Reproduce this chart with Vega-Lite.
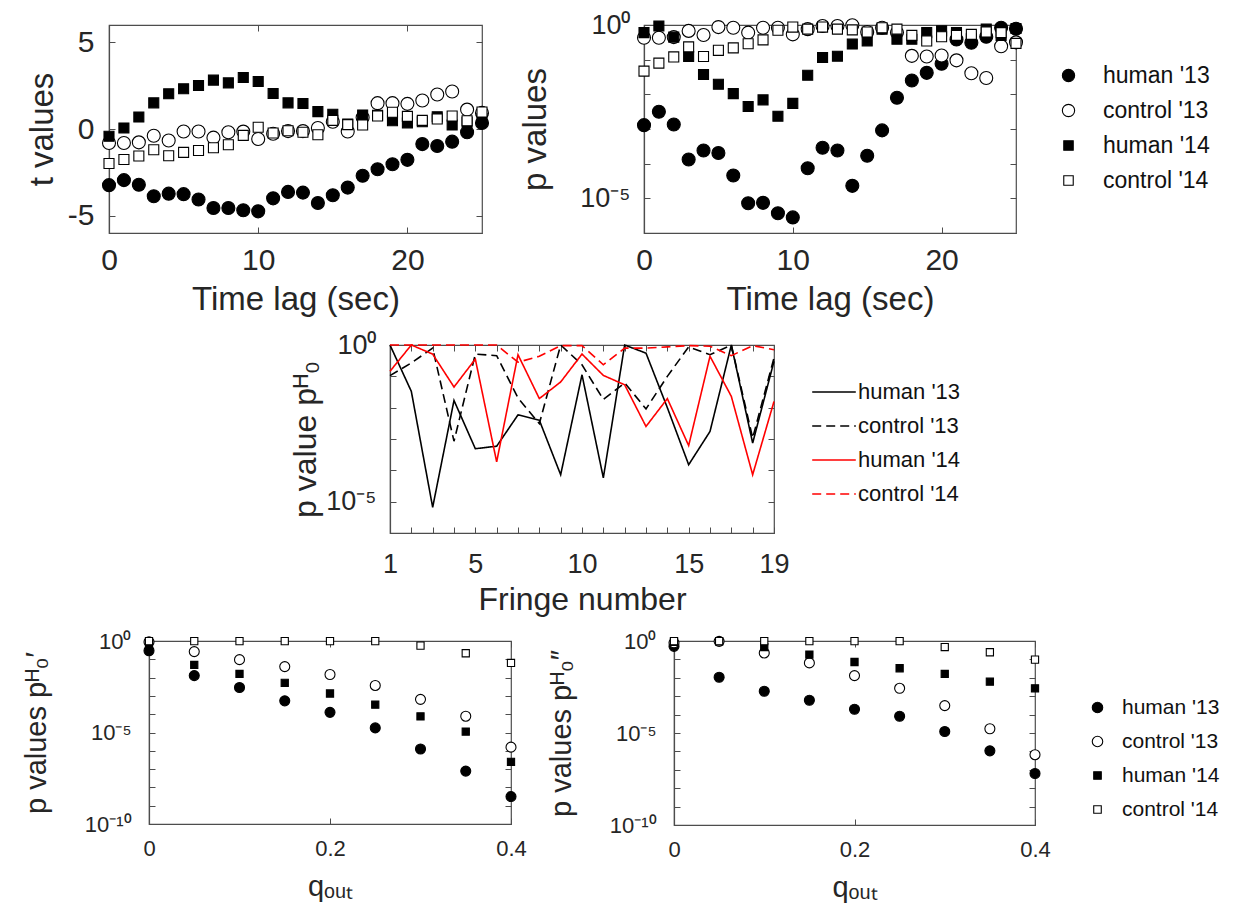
{
"$schema": "https://vega.github.io/schema/vega-lite/v6.json",
"background": "white",
"padding": {"left": 0, "top": 10, "right": 5, "bottom": 5},
"config": {
  "font": "Liberation Sans",
  "view": {"stroke": "#4d4d4d", "strokeWidth": 1.2},
  "axis": {"domainColor": "#4d4d4d", "domainWidth": 1.2, "tickColor": "#4d4d4d", "tickSize": -6, "tickWidth": 1, "labelColor": "#262626", "titleColor": "#262626", "grid": false, "labelFlush": false, "labelOverlap": false, "titleFontWeight": "normal", "labelFont": "Liberation Sans", "titleFont": "Liberation Sans"},
  "legend": {"labelColor": "#111111", "labelFont": "Liberation Sans"}
},
"datasets": {
  "tvals": [
    {"lag":0,"series":"human '13","t":-3.24},{"lag":1,"series":"human '13","t":-2.95},{"lag":2,"series":"human '13","t":-3.22},{"lag":3,"series":"human '13","t":-3.88},{"lag":4,"series":"human '13","t":-3.73},{"lag":5,"series":"human '13","t":-3.76},{"lag":6,"series":"human '13","t":-4.07},{"lag":7,"series":"human '13","t":-4.56},{"lag":8,"series":"human '13","t":-4.56},{"lag":9,"series":"human '13","t":-4.69},{"lag":10,"series":"human '13","t":-4.75},{"lag":11,"series":"human '13","t":-4.0},{"lag":12,"series":"human '13","t":-3.63},{"lag":13,"series":"human '13","t":-3.67},{"lag":14,"series":"human '13","t":-4.27},{"lag":15,"series":"human '13","t":-3.82},{"lag":16,"series":"human '13","t":-3.38},{"lag":17,"series":"human '13","t":-2.70},{"lag":18,"series":"human '13","t":-2.32},{"lag":19,"series":"human '13","t":-2.03},{"lag":20,"series":"human '13","t":-1.78},{"lag":21,"series":"human '13","t":-0.87},{"lag":22,"series":"human '13","t":-0.98},{"lag":23,"series":"human '13","t":-0.73},{"lag":24,"series":"human '13","t":-0.19},{"lag":25,"series":"human '13","t":0.35},
    {"lag":0,"series":"control '13","t":-0.81},{"lag":1,"series":"control '13","t":-0.81},{"lag":2,"series":"control '13","t":-0.77},{"lag":3,"series":"control '13","t":-0.39},{"lag":4,"series":"control '13","t":-0.66},{"lag":5,"series":"control '13","t":-0.14},{"lag":6,"series":"control '13","t":-0.14},{"lag":7,"series":"control '13","t":-0.50},{"lag":8,"series":"control '13","t":-0.19},{"lag":9,"series":"control '13","t":-0.15},{"lag":10,"series":"control '13","t":-0.58},{"lag":11,"series":"control '13","t":-0.27},{"lag":12,"series":"control '13","t":-0.12},{"lag":13,"series":"control '13","t":-0.12},{"lag":14,"series":"control '13","t":0.06},{"lag":15,"series":"control '13","t":0.42},{"lag":16,"series":"control '13","t":-0.14},{"lag":17,"series":"control '13","t":0.66},{"lag":18,"series":"control '13","t":1.49},{"lag":19,"series":"control '13","t":1.49},{"lag":20,"series":"control '13","t":1.45},{"lag":21,"series":"control '13","t":1.64},{"lag":22,"series":"control '13","t":1.99},{"lag":23,"series":"control '13","t":2.16},{"lag":24,"series":"control '13","t":1.12},{"lag":25,"series":"control '13","t":0.93},
    {"lag":0,"series":"human '14","t":-0.42},{"lag":1,"series":"human '14","t":0.06},{"lag":2,"series":"human '14","t":0.69},{"lag":3,"series":"human '14","t":1.51},{"lag":4,"series":"human '14","t":2.03},{"lag":5,"series":"human '14","t":2.32},{"lag":6,"series":"human '14","t":2.51},{"lag":7,"series":"human '14","t":2.82},{"lag":8,"series":"human '14","t":2.66},{"lag":9,"series":"human '14","t":2.97},{"lag":10,"series":"human '14","t":2.74},{"lag":11,"series":"human '14","t":2.05},{"lag":12,"series":"human '14","t":1.51},{"lag":13,"series":"human '14","t":1.47},{"lag":14,"series":"human '14","t":1.0},{"lag":15,"series":"human '14","t":0.85},{"lag":16,"series":"human '14","t":0.29},{"lag":17,"series":"human '14","t":0.81},{"lag":18,"series":"human '14","t":0.79},{"lag":19,"series":"human '14","t":0.48},{"lag":20,"series":"human '14","t":0.35},{"lag":21,"series":"human '14","t":0.42},{"lag":22,"series":"human '14","t":0.71},{"lag":23,"series":"human '14","t":0.23},{"lag":24,"series":"human '14","t":0.39},{"lag":25,"series":"human '14","t":0.6},
    {"lag":0,"series":"control '14","t":-1.99},{"lag":1,"series":"control '14","t":-1.76},{"lag":2,"series":"control '14","t":-1.56},{"lag":3,"series":"control '14","t":-1.20},{"lag":4,"series":"control '14","t":-1.54},{"lag":5,"series":"control '14","t":-1.35},{"lag":6,"series":"control '14","t":-1.24},{"lag":7,"series":"control '14","t":-1.08},{"lag":8,"series":"control '14","t":-0.91},{"lag":9,"series":"control '14","t":-0.37},{"lag":10,"series":"control '14","t":0.10},{"lag":11,"series":"control '14","t":-0.23},{"lag":12,"series":"control '14","t":-0.10},{"lag":13,"series":"control '14","t":-0.19},{"lag":14,"series":"control '14","t":-0.33},{"lag":15,"series":"control '14","t":0.50},{"lag":16,"series":"control '14","t":0.25},{"lag":17,"series":"control '14","t":0.23},{"lag":18,"series":"control '14","t":0.75},{"lag":19,"series":"control '14","t":0.97},{"lag":20,"series":"control '14","t":0.73},{"lag":21,"series":"control '14","t":0.5},{"lag":22,"series":"control '14","t":0.58},{"lag":23,"series":"control '14","t":0.75},{"lag":24,"series":"control '14","t":0.48},{"lag":25,"series":"control '14","t":0.98}
  ],
  "pvals": [
    {"lag":0,"series":"human '13","p":1.29e-3},{"lag":1,"series":"human '13","p":3.16e-3},{"lag":2,"series":"human '13","p":1.35e-3},{"lag":3,"series":"human '13","p":1.32e-4},{"lag":4,"series":"human '13","p":2.40e-4},{"lag":5,"series":"human '13","p":2.04e-4},{"lag":6,"series":"human '13","p":4.57e-5},{"lag":7,"series":"human '13","p":7.24e-6},{"lag":8,"series":"human '13","p":7.41e-6},{"lag":9,"series":"human '13","p":3.72e-6},{"lag":10,"series":"human '13","p":2.82e-6},{"lag":11,"series":"human '13","p":7.41e-5},{"lag":12,"series":"human '13","p":2.88e-4},{"lag":13,"series":"human '13","p":2.40e-4},{"lag":14,"series":"human '13","p":2.29e-5},{"lag":15,"series":"human '13","p":1.70e-4},{"lag":16,"series":"human '13","p":9.12e-4},{"lag":17,"series":"human '13","p":7.94e-3},{"lag":18,"series":"human '13","p":0.0251},{"lag":19,"series":"human '13","p":0.0417},{"lag":20,"series":"human '13","p":0.0759},{"lag":21,"series":"human '13","p":0.380},{"lag":22,"series":"human '13","p":0.309},{"lag":23,"series":"human '13","p":0.457},{"lag":24,"series":"human '13","p":0.832},{"lag":25,"series":"human '13","p":0.776},
    {"lag":0,"series":"control '13","p":0.427},{"lag":1,"series":"control '13","p":0.427},{"lag":2,"series":"control '13","p":0.447},{"lag":3,"series":"control '13","p":0.676},{"lag":4,"series":"control '13","p":0.513},{"lag":5,"series":"control '13","p":0.871},{"lag":6,"series":"control '13","p":0.832},{"lag":7,"series":"control '13","p":0.603},{"lag":8,"series":"control '13","p":0.832},{"lag":9,"series":"control '13","p":0.832},{"lag":10,"series":"control '13","p":0.537},{"lag":11,"series":"control '13","p":0.759},{"lag":12,"series":"control '13","p":0.933},{"lag":13,"series":"control '13","p":0.933},{"lag":14,"series":"control '13","p":0.98},{"lag":15,"series":"control '13","p":0.631},{"lag":16,"series":"control '13","p":0.832},{"lag":17,"series":"control '13","p":0.603},{"lag":18,"series":"control '13","p":0.129},{"lag":19,"series":"control '13","p":0.123},{"lag":20,"series":"control '13","p":0.132},{"lag":21,"series":"control '13","p":0.0955},{"lag":22,"series":"control '13","p":0.0407},{"lag":23,"series":"control '13","p":0.0295},{"lag":24,"series":"control '13","p":0.245},{"lag":25,"series":"control '13","p":0.316},
    {"lag":0,"series":"human '14","p":0.603},{"lag":1,"series":"human '14","p":0.933},{"lag":2,"series":"human '14","p":0.447},{"lag":3,"series":"human '14","p":0.123},{"lag":4,"series":"human '14","p":0.0372},{"lag":5,"series":"human '14","p":0.0195},{"lag":6,"series":"human '14","p":0.0105},{"lag":7,"series":"human '14","p":4.47e-3},{"lag":8,"series":"human '14","p":6.92e-3},{"lag":9,"series":"human '14","p":2.34e-3},{"lag":10,"series":"human '14","p":5.50e-3},{"lag":11,"series":"human '14","p":0.0355},{"lag":12,"series":"human '14","p":0.115},{"lag":13,"series":"human '14","p":0.126},{"lag":14,"series":"human '14","p":0.282},{"lag":15,"series":"human '14","p":0.347},{"lag":16,"series":"human '14","p":0.759},{"lag":17,"series":"human '14","p":0.389},{"lag":18,"series":"human '14","p":0.389},{"lag":19,"series":"human '14","p":0.603},{"lag":20,"series":"human '14","p":0.676},{"lag":21,"series":"human '14","p":0.603},{"lag":22,"series":"human '14","p":0.398},{"lag":23,"series":"human '14","p":0.759},{"lag":24,"series":"human '14","p":0.501},{"lag":25,"series":"human '14","p":0.794},
    {"lag":0,"series":"control '14","p":0.0468},{"lag":1,"series":"control '14","p":0.0794},{"lag":2,"series":"control '14","p":0.120},{"lag":3,"series":"control '14","p":0.234},{"lag":4,"series":"control '14","p":0.123},{"lag":5,"series":"control '14","p":0.186},{"lag":6,"series":"control '14","p":0.219},{"lag":7,"series":"control '14","p":0.288},{"lag":8,"series":"control '14","p":0.372},{"lag":9,"series":"control '14","p":0.708},{"lag":10,"series":"control '14","p":0.871},{"lag":11,"series":"control '14","p":0.759},{"lag":12,"series":"control '14","p":0.871},{"lag":13,"series":"control '14","p":0.759},{"lag":14,"series":"control '14","p":0.724},{"lag":15,"series":"control '14","p":0.631},{"lag":16,"series":"control '14","p":0.832},{"lag":17,"series":"control '14","p":0.759},{"lag":18,"series":"control '14","p":0.501},{"lag":19,"series":"control '14","p":0.347},{"lag":20,"series":"control '14","p":0.457},{"lag":21,"series":"control '14","p":0.501},{"lag":22,"series":"control '14","p":0.537},{"lag":23,"series":"control '14","p":0.631},{"lag":24,"series":"control '14","p":0.603},{"lag":25,"series":"control '14","p":0.295}
  ],
  "fringe": [
    {"fringe":1,"series":"human '13","p":1},{"fringe":2,"series":"human '13","p":0.0331},{"fringe":3,"series":"human '13","p":6.61e-6},{"fringe":4,"series":"human '13","p":0.0170},{"fringe":5,"series":"human '13","p":4.90e-4},{"fringe":6,"series":"human '13","p":5.89e-4},{"fringe":7,"series":"human '13","p":5.89e-3},{"fringe":8,"series":"human '13","p":3.98e-3},{"fringe":9,"series":"human '13","p":7.24e-5},{"fringe":10,"series":"human '13","p":0.112},{"fringe":11,"series":"human '13","p":5.75e-5},{"fringe":12,"series":"human '13","p":1},{"fringe":13,"series":"human '13","p":0.550},{"fringe":14,"series":"human '13","p":0.01},{"fringe":15,"series":"human '13","p":1.51e-4},{"fringe":16,"series":"human '13","p":1.74e-3},{"fringe":17,"series":"human '13","p":1},{"fringe":18,"series":"human '13","p":7.41e-4},{"fringe":19,"series":"human '13","p":0.302},
    {"fringe":1,"series":"control '13","p":0.105},{"fringe":2,"series":"control '13","p":0.269},{"fringe":3,"series":"control '13","p":0.794},{"fringe":4,"series":"control '13","p":8.51e-4},{"fringe":5,"series":"control '13","p":0.513},{"fringe":6,"series":"control '13","p":0.457},{"fringe":7,"series":"control '13","p":0.0204},{"fringe":8,"series":"control '13","p":3.09e-3},{"fringe":9,"series":"control '13","p":1},{"fringe":10,"series":"control '13","p":0.234},{"fringe":11,"series":"control '13","p":0.0182},{"fringe":12,"series":"control '13","p":0.0617},{"fringe":13,"series":"control '13","p":9.12e-3},{"fringe":14,"series":"control '13","p":0.1},{"fringe":15,"series":"control '13","p":0.871},{"fringe":16,"series":"control '13","p":0.490},{"fringe":17,"series":"control '13","p":1},{"fringe":18,"series":"control '13","p":1.07e-3},{"fringe":19,"series":"control '13","p":0.389},
    {"fringe":1,"series":"human '14","p":0.145},{"fringe":2,"series":"human '14","p":1},{"fringe":3,"series":"human '14","p":0.513},{"fringe":4,"series":"human '14","p":0.0457},{"fringe":5,"series":"human '14","p":0.355},{"fringe":6,"series":"human '14","p":1.86e-4},{"fringe":7,"series":"human '14","p":0.490},{"fringe":8,"series":"human '14","p":0.0195},{"fringe":9,"series":"human '14","p":0.0661},{"fringe":10,"series":"human '14","p":0.513},{"fringe":11,"series":"human '14","p":0.107},{"fringe":12,"series":"human '14","p":0.0537},{"fringe":13,"series":"human '14","p":2.51e-3},{"fringe":14,"series":"human '14","p":0.0195},{"fringe":15,"series":"human '14","p":6.17e-4},{"fringe":16,"series":"human '14","p":0.437},{"fringe":17,"series":"human '14","p":0.0229},{"fringe":18,"series":"human '14","p":7.24e-5},{"fringe":19,"series":"human '14","p":0.0158},
    {"fringe":1,"series":"control '14","p":1},{"fringe":2,"series":"control '14","p":1},{"fringe":3,"series":"control '14","p":1},{"fringe":4,"series":"control '14","p":1},{"fringe":5,"series":"control '14","p":1},{"fringe":6,"series":"control '14","p":1},{"fringe":7,"series":"control '14","p":0.282},{"fringe":8,"series":"control '14","p":0.437},{"fringe":9,"series":"control '14","p":0.955},{"fringe":10,"series":"control '14","p":0.955},{"fringe":11,"series":"control '14","p":0.234},{"fringe":12,"series":"control '14","p":0.794},{"fringe":13,"series":"control '14","p":0.794},{"fringe":14,"series":"control '14","p":0.871},{"fringe":15,"series":"control '14","p":0.955},{"fringe":16,"series":"control '14","p":0.912},{"fringe":17,"series":"control '14","p":0.457},{"fringe":18,"series":"control '14","p":0.955},{"fringe":19,"series":"control '14","p":0.708}
  ],
  "q1": [
    {"q":0,"series":"human '13","p":0.295},{"q":0.05,"series":"human '13","p":0.0129},{"q":0.1,"series":"human '13","p":2.88e-3},{"q":0.15,"series":"human '13","p":5.37e-4},{"q":0.2,"series":"human '13","p":1.26e-4},{"q":0.25,"series":"human '13","p":1.78e-5},{"q":0.3,"series":"human '13","p":1.26e-6},{"q":0.35,"series":"human '13","p":7.76e-8},{"q":0.4,"series":"human '13","p":3.16e-9},
    {"q":0,"series":"control '13","p":0.891},{"q":0.05,"series":"control '13","p":0.263},{"q":0.1,"series":"control '13","p":0.0955},{"q":0.15,"series":"control '13","p":0.0398},{"q":0.2,"series":"control '13","p":0.0148},{"q":0.25,"series":"control '13","p":3.72e-3},{"q":0.3,"series":"control '13","p":6.46e-4},{"q":0.35,"series":"control '13","p":7.76e-5},{"q":0.4,"series":"control '13","p":1.58e-6},
    {"q":0,"series":"human '14","p":0.631},{"q":0.05,"series":"human '14","p":0.0490},{"q":0.1,"series":"human '14","p":0.0158},{"q":0.15,"series":"human '14","p":5.13e-3},{"q":0.2,"series":"human '14","p":1.35e-3},{"q":0.25,"series":"human '14","p":3.31e-4},{"q":0.3,"series":"human '14","p":7.59e-5},{"q":0.35,"series":"human '14","p":1.12e-5},{"q":0.4,"series":"human '14","p":2.51e-7},
    {"q":0,"series":"control '14","p":0.98},{"q":0.05,"series":"control '14","p":0.98},{"q":0.1,"series":"control '14","p":0.98},{"q":0.15,"series":"control '14","p":0.98},{"q":0.2,"series":"control '14","p":0.98},{"q":0.25,"series":"control '14","p":0.98},{"q":0.3,"series":"control '14","p":0.562},{"q":0.35,"series":"control '14","p":0.214},{"q":0.4,"series":"control '14","p":0.0631}
  ],
  "q2": [
    {"q":0,"series":"human '13","p":0.513},{"q":0.05,"series":"human '13","p":0.0107},{"q":0.1,"series":"human '13","p":1.86e-3},{"q":0.15,"series":"human '13","p":6.03e-4},{"q":0.2,"series":"human '13","p":1.95e-4},{"q":0.25,"series":"human '13","p":8.13e-5},{"q":0.3,"series":"human '13","p":1.20e-5},{"q":0.35,"series":"human '13","p":1.07e-6},{"q":0.4,"series":"human '13","p":6.31e-8},
    {"q":0,"series":"control '13","p":0.794},{"q":0.05,"series":"control '13","p":0.955},{"q":0.1,"series":"control '13","p":0.224},{"q":0.15,"series":"control '13","p":0.0646},{"q":0.2,"series":"control '13","p":0.0132},{"q":0.25,"series":"control '13","p":2.69e-3},{"q":0.3,"series":"control '13","p":3.09e-4},{"q":0.35,"series":"control '13","p":1.70e-5},{"q":0.4,"series":"control '13","p":6.61e-7},
    {"q":0,"series":"human '14","p":0.891},{"q":0.05,"series":"human '14","p":0.955},{"q":0.1,"series":"human '14","p":0.468},{"q":0.15,"series":"human '14","p":0.182},{"q":0.2,"series":"human '14","p":0.0724},{"q":0.25,"series":"human '14","p":0.0331},{"q":0.3,"series":"human '14","p":0.0162},{"q":0.35,"series":"human '14","p":6.17e-3},{"q":0.4,"series":"human '14","p":2.69e-3},
    {"q":0,"series":"control '14","p":0.98},{"q":0.05,"series":"control '14","p":0.98},{"q":0.1,"series":"control '14","p":0.98},{"q":0.15,"series":"control '14","p":0.98},{"q":0.2,"series":"control '14","p":0.98},{"q":0.25,"series":"control '14","p":0.98},{"q":0.3,"series":"control '14","p":0.468},{"q":0.35,"series":"control '14","p":0.245},{"q":0.4,"series":"control '14","p":0.0977}
  ]
},
"spacing": 13,
"resolve": {"scale": {"shape": "independent", "fill": "independent", "stroke": "independent", "color": "independent", "strokeDash": "independent"}, "legend": {"shape": "independent", "fill": "independent", "stroke": "independent", "color": "independent", "strokeDash": "independent"}},
"vconcat": [
  {
    "spacing": 24,
    "resolve": {"scale": {"shape": "independent", "fill": "independent", "stroke": "independent"}, "legend": {"shape": "independent", "fill": "independent", "stroke": "independent"}},
    "hconcat": [
      {"width": 1, "height": 10, "data": {"values": []}, "mark": {"type": "point", "opacity": 0}, "encoding": {}, "view": {"stroke": null}},
      {
        "spacing": 27,
        "resolve": {"scale": {"shape": "independent", "fill": "independent", "stroke": "independent"}, "legend": {"shape": "independent", "fill": "independent", "stroke": "independent"}},
        "hconcat": [
          {
            "width": 373, "height": 208,
            "data": {"name": "tvals"},
            "resolve": {"axis": {"x": "independent", "y": "independent"}},
            "layer": [
              {
                "mark": {"type": "point", "filled": true, "strokeWidth": 1.1, "opacity": 1, "size": 169},
                "encoding": {
                  "x": {"field": "lag", "type": "quantitative", "scale": {"domain": [0, 25], "nice": false, "zero": false}, "axis": {"values": [0, 10, 20], "title": "Time lag (sec)", "labelFontSize": 30, "titleFontSize": 33, "labelPadding": 18, "titlePadding": 8}},
                  "y": {"field": "t", "type": "quantitative", "scale": {"domain": [-6, 6], "nice": false}, "axis": {"values": [-5, 0, 5], "title": "t values", "labelFontSize": 30, "titleFontSize": 33, "labelPadding": 21, "titlePadding": 8, "labelExpr": "replace(datum.label, '\u2212', '-')"}},
                  "shape": {"field": "series", "type": "nominal", "scale": {"domain": ["human '13", "control '13", "human '14", "control '14"], "range": ["circle", "circle", "M-0.77,-0.77H0.77V0.77H-0.77Z", "M-0.77,-0.77H0.77V0.77H-0.77Z"]}, "legend": null},
                  "fill": {"field": "series", "type": "nominal", "scale": {"domain": ["human '13", "control '13", "human '14", "control '14"], "range": ["black", "white", "black", "white"]}, "legend": null},
                  "stroke": {"field": "series", "type": "nominal", "scale": {"domain": ["human '13", "control '13", "human '14", "control '14"], "range": ["black", "black", "black", "black"]}, "legend": null}
                }
              },
              {
                "mark": {"type": "point", "opacity": 0},
                "encoding": {
                  "x": {"field": "lag", "type": "quantitative", "scale": {"domain": [0, 25], "nice": false, "zero": false}, "axis": {"orient": "top", "values": [0, 10, 20], "labels": false, "title": null, "domain": false}},
                  "y": {"field": "t", "type": "quantitative", "scale": {"domain": [-6, 6], "nice": false}, "axis": {"orient": "right", "values": [-5, 0, 5], "labels": false, "title": null, "domain": false}}
                }
              }
            ]
          },
          {
            "width": 372, "height": 208,
            "data": {"name": "pvals"},
            "resolve": {"axis": {"x": "independent", "y": "independent"}},
            "layer": [
              {
                "mark": {"type": "point", "filled": true, "strokeWidth": 1.1, "opacity": 1, "size": 169},
                "encoding": {
                  "x": {"field": "lag", "type": "quantitative", "scale": {"domain": [0, 25], "nice": false, "zero": false}, "axis": {"values": [0, 10, 20], "title": "Time lag (sec)", "labelFontSize": 30, "titleFontSize": 33, "labelPadding": 18, "titlePadding": 8}},
                  "y": {"field": "p", "type": "quantitative", "scale": {"type": "log", "domain": [0.000001, 1], "nice": false}, "axis": {"values": [0.000001, 0.00001, 0.0001, 0.001, 0.01, 0.1, 1], "title": "p values", "labelFontSize": 27, "titleFontSize": 33, "labelPadding": 20, "titlePadding": 27, "labelExpr": "datum.value == 1 ? '10\u2070' : (datum.value == 0.00001 ? '10\u207b\u2075' : '')"}},
                  "shape": {"field": "series", "type": "nominal", "title": null, "scale": {"domain": ["human '13", "control '13", "human '14", "control '14"], "range": ["circle", "circle", "M-0.77,-0.77H0.77V0.77H-0.77Z", "M-0.77,-0.77H0.77V0.77H-0.77Z"]}, "legend": {"orient": "right", "offset": 1, "padding": 39, "labelFontSize": 23, "symbolSize": 151, "rowPadding": 11, "labelOffset": 23, "symbolStrokeWidth": 1.1}},
                  "fill": {"field": "series", "type": "nominal", "title": null, "scale": {"domain": ["human '13", "control '13", "human '14", "control '14"], "range": ["black", "white", "black", "white"]}, "legend": {"orient": "right", "offset": 1, "padding": 39, "labelFontSize": 23, "symbolSize": 151, "rowPadding": 11, "labelOffset": 23, "symbolStrokeWidth": 1.1}},
                  "stroke": {"field": "series", "type": "nominal", "title": null, "scale": {"domain": ["human '13", "control '13", "human '14", "control '14"], "range": ["black", "black", "black", "black"]}, "legend": {"orient": "right", "offset": 1, "padding": 39, "labelFontSize": 23, "symbolSize": 151, "rowPadding": 11, "labelOffset": 23, "symbolStrokeWidth": 1.1}}
                }
              },
              {
                "mark": {"type": "point", "opacity": 0},
                "encoding": {
                  "x": {"field": "lag", "type": "quantitative", "scale": {"domain": [0, 25], "nice": false, "zero": false}, "axis": {"orient": "top", "values": [0, 10, 20], "labels": false, "title": null, "domain": false}},
                  "y": {"field": "p", "type": "quantitative", "scale": {"type": "log", "domain": [0.000001, 1], "nice": false}, "axis": {"orient": "right", "values": [0.000001, 0.00001, 0.0001, 0.001, 0.01, 0.1, 1], "labels": false, "title": null, "domain": false}}
                }
              }
            ]
          }
        ]
      }
    ]
  },
  {
    "spacing": 20,
    "resolve": {"scale": {"color": "independent", "strokeDash": "independent"}, "legend": {"color": "independent", "strokeDash": "independent"}},
    "hconcat": [
      {"width": 269, "height": 10, "data": {"values": []}, "mark": {"type": "point", "opacity": 0}, "encoding": {}, "view": {"stroke": null}},
      {
        "width": 384, "height": 188,
        "data": {"name": "fringe"},
        "resolve": {"axis": {"x": "independent", "y": "independent"}},
        "layer": [
          {
            "mark": {"type": "line", "strokeWidth": 1.6},
            "encoding": {
              "x": {"field": "fringe", "type": "quantitative", "scale": {"domain": [1, 19], "nice": false, "zero": false}, "axis": {"values": [1,2,3,4,5,6,7,8,9,10,11,12,13,14,15,16,17,18,19], "title": "Fringe number", "labelFontSize": 27, "titleFontSize": 32, "labelPadding": 24, "titlePadding": 7, "labelExpr": "indexof([1,5,10,15,19], datum.value) >= 0 ? datum.label : ''"}},
              "y": {"field": "p", "type": "quantitative", "scale": {"type": "log", "domain": [0.000001, 1], "nice": false}, "axis": {"values": [0.000001, 0.00001, 0.0001, 0.001, 0.01, 0.1, 1], "title": "p value p\u1d34\u2080", "labelFontSize": 27, "titleFontSize": 32, "labelPadding": 20, "titlePadding": 3, "labelExpr": "datum.value == 1 ? '10\u2070' : (datum.value == 0.00001 ? '10\u207b\u2075' : '')"}},
              "color": {"field": "series", "type": "nominal", "title": null, "scale": {"domain": ["human '13", "control '13", "human '14", "control '14"], "range": ["black", "black", "red", "red"]}, "legend": {"orient": "right", "offset": 9, "padding": 24, "labelFontSize": 22, "symbolSize": 1900, "symbolStrokeWidth": 1.6, "rowPadding": 0, "labelOffset": 1, "symbolType": "stroke"}},
              "strokeDash": {"field": "series", "type": "nominal", "title": null, "scale": {"domain": ["human '13", "control '13", "human '14", "control '14"], "range": [[1, 0], [9, 5], [1, 0], [9, 5]]}, "legend": {"orient": "right", "offset": 9, "padding": 24, "labelFontSize": 22, "symbolSize": 1900, "symbolStrokeWidth": 1.6, "rowPadding": 0, "labelOffset": 1, "symbolType": "stroke"}}
            }
          },
          {
            "mark": {"type": "point", "opacity": 0},
            "encoding": {
              "x": {"field": "fringe", "type": "quantitative", "scale": {"domain": [1, 19], "nice": false, "zero": false}, "axis": {"orient": "top", "values": [1,2,3,4,5,6,7,8,9,10,11,12,13,14,15,16,17,18,19], "labels": false, "title": null, "domain": false}},
              "y": {"field": "p", "type": "quantitative", "scale": {"type": "log", "domain": [0.000001, 1], "nice": false}, "axis": {"orient": "right", "values": [0.000001, 0.00001, 0.0001, 0.001, 0.01, 0.1, 1], "labels": false, "title": null, "domain": false}}
            }
          }
        ]
      }
    ]
  },
  {
    "spacing": 20,
    "resolve": {"scale": {"shape": "independent", "fill": "independent", "stroke": "independent"}, "legend": {"shape": "independent", "fill": "independent", "stroke": "independent"}},
    "hconcat": [
      {"width": 1, "height": 10, "data": {"values": []}, "mark": {"type": "point", "opacity": 0}, "encoding": {}, "view": {"stroke": null}},
      {
        "spacing": 19,
        "resolve": {"scale": {"shape": "independent", "fill": "independent", "stroke": "independent"}, "legend": {"shape": "independent", "fill": "independent", "stroke": "independent"}},
        "hconcat": [
          {
            "width": 362, "height": 183,
            "data": {"name": "q1"},
            "resolve": {"axis": {"x": "independent", "y": "independent"}},
            "layer": [
              {
                "mark": {"type": "point", "filled": true, "strokeWidth": 1.1, "opacity": 1, "size": 100},
                "encoding": {
                  "x": {"field": "q", "type": "quantitative", "scale": {"domain": [0, 0.4], "nice": false}, "axis": {"values": [0, 0.2, 0.4], "title": "q\u2092\u1d64\u209c", "labelFontSize": 22, "titleFontSize": 29, "labelPadding": 20, "titlePadding": 13, "labelExpr": "datum.value == 0 ? '0' : datum.label"}},
                  "y": {"field": "p", "type": "quantitative", "scale": {"type": "log", "domain": [1e-10, 1], "nice": false}, "axis": {"values": [1e-10, 1e-9, 1e-8, 1e-7, 1e-6, 0.00001, 0.0001, 0.001, 0.01, 0.1, 1], "title": "p values p\u1d34\u2080\u2032", "labelFontSize": 22, "titleFontSize": 29, "labelPadding": 24, "titlePadding": 33, "labelExpr": "datum.value == 1 ? '10\u2070' : (datum.value == 0.00001 ? '10\u207b\u2075' : (datum.value == 0.0000000001 ? '10\u207b\u00b9\u2070' : ''))"}},
                  "shape": {"field": "series", "type": "nominal", "scale": {"domain": ["human '13", "control '13", "human '14", "control '14"], "range": ["circle", "circle", "M-0.72,-0.72H0.72V0.72H-0.72Z", "M-0.72,-0.72H0.72V0.72H-0.72Z"]}, "legend": null},
                  "fill": {"field": "series", "type": "nominal", "scale": {"domain": ["human '13", "control '13", "human '14", "control '14"], "range": ["black", "white", "black", "white"]}, "legend": null},
                  "stroke": {"field": "series", "type": "nominal", "scale": {"domain": ["human '13", "control '13", "human '14", "control '14"], "range": ["black", "black", "black", "black"]}, "legend": null}
                }
              },
              {
                "mark": {"type": "point", "opacity": 0},
                "encoding": {
                  "x": {"field": "q", "type": "quantitative", "scale": {"domain": [0, 0.4], "nice": false}, "axis": {"orient": "top", "values": [0, 0.2, 0.4], "labels": false, "title": null, "domain": false}},
                  "y": {"field": "p", "type": "quantitative", "scale": {"type": "log", "domain": [1e-10, 1], "nice": false}, "axis": {"orient": "right", "values": [1e-10, 1e-9, 1e-8, 1e-7, 1e-6, 0.00001, 0.0001, 0.001, 0.01, 0.1, 1], "labels": false, "title": null, "domain": false}}
                }
              }
            ]
          },
          {
            "width": 361, "height": 184,
            "data": {"name": "q2"},
            "resolve": {"axis": {"x": "independent", "y": "independent"}},
            "layer": [
              {
                "mark": {"type": "point", "filled": true, "strokeWidth": 1.1, "opacity": 1, "size": 100},
                "encoding": {
                  "x": {"field": "q", "type": "quantitative", "scale": {"domain": [0, 0.4], "nice": false}, "axis": {"values": [0, 0.2, 0.4], "title": "q\u2092\u1d64\u209c", "labelFontSize": 22, "titleFontSize": 29, "labelPadding": 20, "titlePadding": 13, "labelExpr": "datum.value == 0 ? '0' : datum.label"}},
                  "y": {"field": "p", "type": "quantitative", "scale": {"type": "log", "domain": [1e-10, 1], "nice": false}, "axis": {"values": [1e-10, 1e-9, 1e-8, 1e-7, 1e-6, 0.00001, 0.0001, 0.001, 0.01, 0.1, 1], "title": "p values p\u1d34\u2080\u2033", "labelFontSize": 22, "titleFontSize": 29, "labelPadding": 24, "titlePadding": 33, "labelExpr": "datum.value == 1 ? '10\u2070' : (datum.value == 0.00001 ? '10\u207b\u2075' : (datum.value == 0.0000000001 ? '10\u207b\u00b9\u2070' : ''))"}},
                  "shape": {"field": "series", "type": "nominal", "title": null, "scale": {"domain": ["human '13", "control '13", "human '14", "control '14"], "range": ["circle", "circle", "M-0.72,-0.72H0.72V0.72H-0.72Z", "M-0.72,-0.72H0.72V0.72H-0.72Z"]}, "legend": {"orient": "right", "offset": -5, "padding": 56, "labelFontSize": 21, "symbolSize": 110, "rowPadding": 12, "labelOffset": 14, "symbolStrokeWidth": 1.1}},
                  "fill": {"field": "series", "type": "nominal", "title": null, "scale": {"domain": ["human '13", "control '13", "human '14", "control '14"], "range": ["black", "white", "black", "white"]}, "legend": {"orient": "right", "offset": -5, "padding": 56, "labelFontSize": 21, "symbolSize": 110, "rowPadding": 12, "labelOffset": 14, "symbolStrokeWidth": 1.1}},
                  "stroke": {"field": "series", "type": "nominal", "title": null, "scale": {"domain": ["human '13", "control '13", "human '14", "control '14"], "range": ["black", "black", "black", "black"]}, "legend": {"orient": "right", "offset": -5, "padding": 56, "labelFontSize": 21, "symbolSize": 110, "rowPadding": 12, "labelOffset": 14, "symbolStrokeWidth": 1.1}}
                }
              },
              {
                "mark": {"type": "point", "opacity": 0},
                "encoding": {
                  "x": {"field": "q", "type": "quantitative", "scale": {"domain": [0, 0.4], "nice": false}, "axis": {"orient": "top", "values": [0, 0.2, 0.4], "labels": false, "title": null, "domain": false}},
                  "y": {"field": "p", "type": "quantitative", "scale": {"type": "log", "domain": [1e-10, 1], "nice": false}, "axis": {"orient": "right", "values": [1e-10, 1e-9, 1e-8, 1e-7, 1e-6, 0.00001, 0.0001, 0.001, 0.01, 0.1, 1], "labels": false, "title": null, "domain": false}}
                }
              }
            ]
          }
        ]
      }
    ]
  }
]
}
